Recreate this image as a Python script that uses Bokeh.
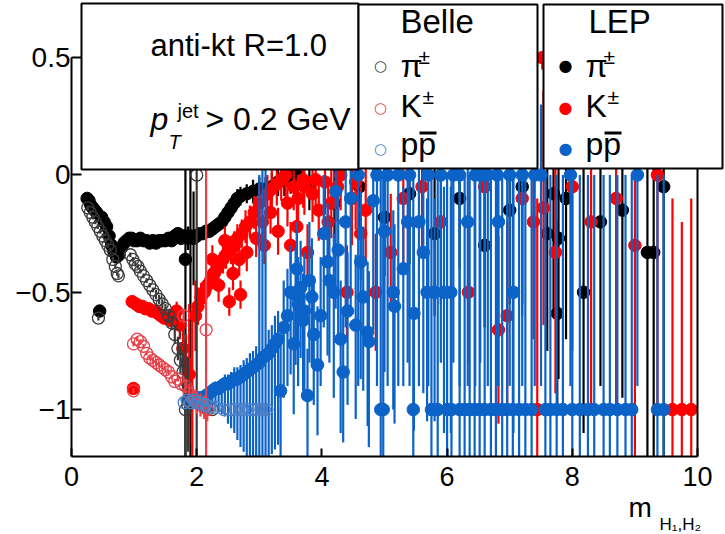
from bokeh.plotting import figure
from bokeh.models import (ColumnDataSource, Range1d, LinearAxis, FixedTicker,
                          CustomJSTickFormatter, BoxAnnotation, Label)
from bokeh.embed import file_html
from bokeh.resources import INLINE

# ---------------- data ----------------
# LEP pi+- (filled black)
lep_pi_x = [0.25,0.28,0.31,0.34,0.37,0.40,0.45,0.48,0.52,0.56,0.60,0.64,0.68,0.72,0.76,0.80,
            0.84,0.88,0.92,0.96,1.00,1.05,1.10,1.15,1.20,1.25,1.30,1.35,1.40,1.45,1.50,1.55,
            1.60,1.65,1.70,1.75,1.80,1.82,1.86,1.90,1.95,2.00,2.05,2.10,2.15,2.20,2.25,2.30,
            2.35,2.40,2.45,2.50,2.55,2.60,2.65,2.70,2.80,2.90,3.00,3.10,3.20,3.30,3.40,3.50,
            3.60,3.80,4.20,4.60,5.00,5.40,5.80,6.20,6.60,7.00,7.20,7.60,7.70,7.76,7.78,7.90,
            8.18,8.45,8.80,9.20,9.30,9.46]
lep_pi_y = [-0.10,-0.11,-0.13,-0.14,-0.15,-0.16,-0.58,-0.18,-0.20,-0.22,-0.26,-0.30,-0.33,-0.35,-0.34,-0.31,
            -0.29,-0.28,-0.27,-0.27,-0.28,-0.28,-0.27,-0.28,-0.28,-0.29,-0.28,-0.29,-0.28,-0.28,-0.28,-0.27,
            -0.28,-0.26,-0.25,-0.27,-0.26,-0.36,-0.27,-0.26,-0.27,-0.26,-0.25,-0.25,-0.24,-0.24,-0.23,-0.22,
            -0.21,-0.20,-0.18,-0.16,-0.14,-0.12,-0.10,-0.09,-0.08,-0.07,-0.06,-0.06,-0.05,-0.03,-0.02,-0.01,
            0.00,-0.05,-0.12,-0.05,-0.18,-0.08,-0.25,-0.10,-0.30,-0.15,-0.05,-0.25,-0.08,-0.59,-0.27,-0.10,
            -0.50,-0.20,-0.15,-0.33,-0.33,-0.05]
lep_pi_e = [0.01,0.01,0.01,0.01,0.01,0.01,0.01,0.01,0.01,0.01,0.01,0.01,0.01,0.01,0.01,0.01,
            0.01,0.01,0.01,0.01,0.01,0.01,0.01,0.01,0.01,0.01,0.01,0.01,0.01,0.01,0.01,0.01,
            0.01,0.01,0.01,0.01,0.01,0.85,0.05,0.95,0.20,0.02,0.02,0.02,0.02,0.02,0.03,0.03,
            0.03,0.03,0.03,0.03,0.04,0.04,0.04,0.04,0.04,0.05,0.05,0.05,0.06,0.06,0.07,0.07,
            0.08,0.10,0.15,0.20,0.25,0.30,0.35,0.30,0.35,0.40,0.50,0.50,0.50,0.40,0.60,0.60,
            0.60,0.70,0.80,0.90,0.90,1.20]

# LEP K+- (filled red)
lep_k_x = [0.97,0.99,1.03,1.08,1.13,1.18,1.23,1.28,1.33,1.38,1.43,1.48,1.53,1.58,1.63,1.68,
           1.73,1.78,1.83,1.88,1.93,1.98,2.02,2.07,2.12,2.17,2.22,2.27,2.32,2.37,2.42,2.47,
           2.52,2.55,2.60,2.65,2.70,2.72,2.78,2.85,2.92,3.00,3.08,3.13,3.20,3.28,3.35,3.42,
           3.50,3.55,3.62,3.70,3.77,3.85,3.95,4.05,4.15,4.25,4.40,4.54,4.70,4.86,5.10,5.30,
           5.60,5.90,6.34,6.60,6.82,6.96,7.20,7.38,7.44,7.52,7.54,7.73,8.00,8.30,8.70,9.00,
           9.36,9.60,9.75,9.90,
           2.25,2.35,2.45,2.58,2.68,2.80,2.95,3.05,3.18,3.30,3.45,3.60,3.72,3.90,4.10,4.30,
           4.48,4.62]
lep_k_y = [-0.54,-0.91,-0.55,-0.56,-0.56,-0.57,-0.57,-0.58,-0.58,-0.59,-0.60,-0.61,-0.61,-0.62,-0.60,-0.58,
           -0.64,-0.74,-0.80,-0.85,-0.95,-0.60,-0.56,-0.52,-0.50,-0.47,-0.45,-0.42,-0.40,-0.38,-0.36,-0.34,
           -0.54,-0.32,-0.30,-0.27,-0.51,-0.25,-0.22,-0.20,-0.16,-0.12,-0.30,-0.08,-0.06,-0.04,-0.02,0.00,
           -0.30,-0.05,-0.10,-0.02,-0.33,-0.08,-0.15,-0.03,-0.12,-0.05,-0.50,-0.03,-0.15,-0.50,-0.33,-0.10,
           -0.05,-0.20,-0.50,-0.05,-0.66,-0.60,-0.10,-0.20,-1.00,0.50,-0.14,-0.33,-0.05,-0.20,-0.10,-0.30,
           0.00,-1.00,-1.00,-1.00,
           -0.36,-0.47,-0.28,-0.42,-0.36,-0.33,-0.27,-0.20,-0.16,-0.24,-0.12,-0.22,-0.05,-0.02,-0.20,0.00,
           -0.10,-0.25]
lep_k_e = [0.01,0.01,0.01,0.01,0.01,0.01,0.01,0.01,0.01,0.01,0.01,0.01,0.01,0.02,0.03,0.04,
           0.06,0.08,0.12,0.30,0.35,0.15,0.08,0.06,0.05,0.05,0.05,0.05,0.05,0.05,0.06,0.06,
           0.06,0.06,0.06,0.06,0.06,0.06,0.07,0.07,0.07,0.08,0.08,0.08,0.08,0.09,0.09,0.10,
           0.10,0.10,0.10,0.12,0.12,0.12,0.13,0.14,0.15,0.15,0.20,0.20,0.22,0.25,0.25,0.30,
           0.30,0.35,0.30,0.40,0.40,0.40,0.50,0.50,0.90,0.05,0.50,0.60,0.70,0.80,0.90,1.00,
           1.00,0.90,0.80,0.90,
           0.06,0.07,0.06,0.07,0.07,0.08,0.08,0.09,0.09,0.10,0.10,0.12,0.12,0.13,0.15,0.15,
           0.20,0.20]

# LEP p pbar (filled blue), asymmetric errors
lep_p_x = [1.85,1.90,1.95,2.00,2.05,2.10,2.15,2.20,2.25,2.30,2.35,2.40,2.45,2.50,2.55,2.60,
           2.65,2.70,2.75,2.80,2.85,2.90,2.95,3.00,3.05,3.10,3.15,3.20,3.25,3.30,
           3.34,3.39,3.45,3.50,3.55,3.58,3.62,3.66,3.70,3.77,
           3.80,3.87,3.93,4.03,4.09,4.19,4.22,4.30,4.34,4.41,
           4.46,4.54,4.62,4.73,4.75,4.82,4.94,4.98,5.00,5.14,
           5.16,5.30,5.37,5.46,5.47,5.62,5.68,5.75,5.80,5.85,
           5.90,5.95,6.00,6.06,6.07,6.10,6.20,6.28,6.33,6.36,
           6.44,6.52,6.53,6.60,6.70,6.78,6.80,6.82,6.88,6.96,
           7.05,7.06,7.15,7.25,7.35,7.50,7.57,7.65,7.75,7.85,
           7.97,8.00,8.12,8.25,8.35,8.50,8.60,8.72,8.85,8.95,
           9.04,9.36,9.46,
           3.60,3.72,3.84,3.98,4.12,4.26,4.38,4.58,4.66,4.88,5.05,5.22,5.40,5.55,5.70,6.20,
           6.45,6.65,7.00,7.20,7.40]
lep_p_y = [-0.96,-0.96,-0.96,-0.95,-0.95,-0.95,-0.94,-0.93,-0.92,-0.91,-0.91,-0.90,-0.89,-0.89,-0.88,-0.87,
           -0.87,-0.86,-0.85,-0.84,-0.83,-0.82,-0.81,-0.80,-0.78,-0.77,-0.76,-0.74,-0.72,-0.70,
           -0.92,-0.65,-0.60,-0.50,-0.72,-0.51,-0.55,-0.48,-0.62,-0.94,
           -0.45,-0.68,-0.81,-0.25,-0.37,-0.50,-0.07,-0.70,-0.84,-0.58,
           -0.10,-0.64,-0.37,-0.67,-0.71,-0.11,-1.00,-1.00,-0.24,-0.50,
           -0.56,-0.40,-0.20,-1.00,-0.59,-0.33,-0.50,-1.00,-0.50,-1.00,
           0.00,-0.50,-1.00,-0.50,-1.00,0.00,-1.00,-1.00,-0.20,-1.00,
           -1.00,-1.00,0.00,-1.00,-1.00,-1.00,0.00,-0.20,-1.00,-1.00,
           -1.00,-0.50,-1.00,-1.00,-1.00,0.00,-1.00,-1.00,-1.00,-1.00,
           0.00,-1.00,-1.00,-1.00,-1.00,-1.00,-1.00,-1.00,-1.00,-1.00,
           0.00,-1.00,-1.00,
           -0.40,-0.58,-0.52,-0.60,-0.45,-0.32,-0.20,0.00,-0.52,0.00,0.00,0.00,0.00,-0.20,0.00,0.00,
           0.00,0.00,0.00,0.00,0.00]
lep_p_elo = [0.02,0.02,0.02,0.02,0.03,0.03,0.04,0.05,0.06,0.08,0.10,0.12,0.14,0.17,0.20,0.23,
             0.26,0.30,0.33,0.36,0.40,0.45,0.50,0.55,0.55,0.55,0.45,0.45,0.45,0.45,
             0.30,0.30,0.30,0.35,0.30,0.30,0.35,0.30,0.30,0.30,
             0.35,0.30,0.30,0.40,0.40,0.45,0.50,0.40,0.30,0.40,
             0.50,0.40,0.50,0.40,0.45,0.55,0.30,0.30,0.60,0.50,
             0.50,0.50,0.60,0.30,0.50,0.60,0.55,0.30,0.55,0.30,
             0.80,0.60,0.30,0.60,0.30,0.80,0.30,0.30,0.70,0.30,
             0.30,0.30,0.80,0.30,0.30,0.30,0.90,0.70,0.30,0.30,
             0.30,0.60,0.30,0.30,0.30,0.90,0.30,0.30,0.30,0.30,
             0.90,0.30,0.30,0.30,0.30,0.30,0.30,0.30,0.30,0.30,
             0.90,0.30,0.30,
             0.30,0.35,0.30,0.30,0.35,0.40,0.45,0.90,0.40,0.90,0.90,0.90,0.90,0.70,0.90,0.90,
             0.90,0.90,0.90,0.90,0.90]
lep_p_ehi = [0.02,0.02,0.02,0.02,0.02,0.02,0.02,0.02,0.03,0.03,0.03,0.03,0.04,0.04,0.04,0.05,
             0.05,0.05,0.06,0.06,0.07,0.07,0.08,0.80,0.80,0.80,0.10,0.10,0.12,0.12,
             0.20,0.20,0.20,0.20,0.20,0.20,0.20,0.20,0.20,0.20,
             0.25,0.25,0.25,0.25,0.25,0.25,0.25,0.25,0.25,0.25,
             0.30,0.30,0.30,0.30,0.30,0.30,1.00,1.00,0.30,0.35,
             0.35,0.35,0.35,1.00,0.40,0.40,0.40,1.00,0.40,1.00,
             0.30,0.45,1.00,0.45,1.00,0.30,1.00,1.00,0.50,1.00,
             1.00,1.00,0.30,1.00,1.00,1.00,0.30,0.50,1.00,1.00,
             1.00,0.50,1.00,1.00,1.00,0.30,1.00,1.00,1.00,1.00,
             0.30,1.00,1.00,1.00,1.00,1.00,1.00,1.00,1.00,1.00,
             0.30,1.00,1.00,
             0.20,0.25,0.25,0.25,0.25,0.25,0.30,0.30,0.30,0.30,0.30,0.30,0.30,0.30,0.30,0.30,
             0.30,0.30,0.30,0.30,0.30]

# Belle pi+- (open black)
belle_pi_x = [0.26,0.30,0.34,0.38,0.42,0.43,0.46,0.50,0.54,0.58,0.62,0.66,0.70,0.73,0.75,
              0.94,0.98,1.02,1.06,1.10,1.15,1.20,1.25,1.30,1.35,1.40,1.45,1.50,1.55,1.60,
              1.65,1.70,1.74,1.78,1.82,1.86,2.00,2.05,2.15,2.25]
belle_pi_y = [-0.14,-0.16,-0.18,-0.20,-0.22,-0.61,-0.24,-0.26,-0.28,-0.30,-0.32,-0.36,-0.39,-0.42,-0.43,
              -0.34,-0.36,-0.38,-0.39,-0.41,-0.43,-0.45,-0.47,-0.49,-0.51,-0.53,-0.55,-0.57,-0.60,-0.63,
              -0.68,-0.74,-0.79,-0.84,-1.00,-0.98,0.00,-0.98,-0.99,-1.00]
belle_pi_e = [0.01,0.01,0.01,0.01,0.01,0.01,0.01,0.01,0.01,0.01,0.01,0.01,0.01,0.01,0.01,
              0.01,0.01,0.01,0.01,0.01,0.01,0.01,0.01,0.01,0.02,0.02,0.02,0.02,0.03,0.03,
              0.04,0.05,0.06,0.08,0.30,0.20,1.30,0.02,0.02,0.02]

# Belle K+- (open red)
belle_k_x = [0.99,0.99,1.05,1.10,1.15,1.20,1.25,1.30,1.35,1.40,1.45,1.50,1.55,1.60,1.65,1.70,
             1.75,1.79,1.82,1.88,1.94,2.00,2.06,2.12,2.15,2.17]
belle_k_y = [-0.72,-0.92,-0.70,-0.71,-0.73,-0.76,-0.78,-0.79,-0.80,-0.81,-0.82,-0.83,-0.84,-0.86,-0.88,-0.87,
             -0.89,-0.60,-0.90,-0.93,-0.95,-0.97,-0.98,-0.99,-0.66,-1.00]
belle_k_e = [0.01,0.01,0.01,0.01,0.01,0.01,0.01,0.01,0.01,0.01,0.01,0.01,0.01,0.01,0.01,0.01,
             0.01,0.03,0.03,0.04,0.05,0.05,0.05,0.05,1.00,0.05]

# Belle p pbar (open blue)
belle_p_x = [1.80,1.85,1.90,1.95,2.00,2.05,2.10,2.15,2.20,2.30,2.43,2.54,2.62,2.70,2.75,2.82,
             2.90,2.97,3.03,3.08,3.12]
belle_p_y = [-0.97,-0.96,-0.97,-0.96,-0.97,-0.97,-0.98,-0.98,-0.99,-0.99,-1.00,-1.00,-1.00,-1.00,-1.00,-1.00,
             -1.00,-1.00,-1.00,-1.00,-1.00]
belle_p_e = [0.01,0.01,0.01,0.01,0.01,0.01,0.01,0.01,0.01,0.02,0.02,0.02,0.02,0.02,0.02,0.02,
             0.02,0.02,0.02,0.02,0.02]

x_ticks = [0, 2, 4, 6, 8, 10]
y_ticks = [-1, -0.5, 0, 0.5]

# ---------------- layout helpers (pixel -> data for decorations) ----------------
W, H = 725, 534
FL, FB = 71, 456            # pixel column of x=0 / pixel row of y=-1.2
PXX = 62.6                  # px per x unit
PXY = 234.6                 # px per y unit
Y_MIN, Y_MAX = -1.2, 0.505  # visible axis extent
Y_TOP = Y_MIN + FB / PXY    # value at pixel row 0
Y_BOT = Y_MIN - (H - FB) / PXY
X_LEFT = -FL / PXX
X_RIGHT = (W - FL) / PXX


def dx(px):
    return (px - FL) / PXX


def dy(py):
    return Y_TOP - py / PXY


FONT = "Liberation Sans"

p = figure(width=W, height=H, x_range=Range1d(X_LEFT, X_RIGHT), y_range=Range1d(Y_BOT, Y_TOP),
           output_backend="svg", toolbar_location=None, x_axis_type=None, y_axis_type=None,
           min_border_left=0, min_border_right=0, min_border_top=0, min_border_bottom=0)
p.outline_line_color = None
p.background_fill_color = "white"

xaxis = LinearAxis(ticker=FixedTicker(ticks=x_ticks), bounds=(0, 10), fixed_location=Y_MIN)
yaxis = LinearAxis(ticker=FixedTicker(ticks=y_ticks), bounds=(Y_MIN, 0.5), fixed_location=0,
                   formatter=CustomJSTickFormatter(code="return tick < 0 ? '\u2212' + (-tick) : String(tick);"))
raxis = LinearAxis(ticker=FixedTicker(ticks=[]), bounds=(Y_MIN, 0.5), fixed_location=10,
                   major_label_text_font_size="0px")
for ax in (xaxis, yaxis, raxis):
    ax.axis_line_width = 2
    ax.axis_line_color = "black"
    ax.major_tick_line_width = 2
    ax.major_tick_out = 0
    ax.minor_tick_line_color = None
    ax.major_label_text_font = FONT
    ax.major_label_text_color = "black"
xaxis.major_tick_in = 8
yaxis.major_tick_in = 10
xaxis.major_label_text_font_size = "27px"
yaxis.major_label_text_font_size = "28px"
xaxis.major_label_standoff = 10
yaxis.major_label_standoff = 1
p.add_layout(xaxis, "below")
p.add_layout(yaxis, "left")
p.add_layout(raxis, "right")


def add_series(x, y, elo, ehi, color, filled, size):
    n = len(x)
    assert len(y) == n and len(elo) == n and len(ehi) == n, (color, n, len(y), len(elo), len(ehi))
    src = ColumnDataSource(dict(x=x, y=y,
                                lo=[max(yy - e, Y_MIN) for yy, e in zip(y, elo)],
                                hi=[min(yy + e, Y_MAX) for yy, e in zip(y, ehi)]))
    p.segment(x0="x", y0="lo", x1="x", y1="hi", source=src, line_color=color, line_width=2.2)
    if filled:
        p.scatter("x", "y", source=src, marker="circle", size=size, fill_color=color,
                  line_color=color)
    else:
        p.scatter("x", "y", source=src, marker="circle", size=size, fill_color=None,
                  line_color=color, line_width=1.3)


LEP_BLACK, LEP_RED, LEP_BLUE = "#000000", "#ff0000", "#0b63c8"
BEL_BLACK, BEL_RED, BEL_BLUE = "#3a3a3a", "#e8404a", "#4a80c8"

add_series(lep_pi_x, lep_pi_y, lep_pi_e, lep_pi_e, LEP_BLACK, True, 12.5)
add_series(lep_k_x, lep_k_y, lep_k_e, lep_k_e, LEP_RED, True, 12.5)
add_series(lep_p_x, lep_p_y, lep_p_elo, lep_p_ehi, LEP_BLUE, True, 12.5)
add_series(belle_pi_x, belle_pi_y, belle_pi_e, belle_pi_e, BEL_BLACK, False, 12)
add_series(belle_k_x, belle_k_y, belle_k_e, belle_k_e, BEL_RED, False, 12)
add_series(belle_p_x, belle_p_y, belle_p_e, belle_p_e, BEL_BLUE, False, 12)

# ---------------- boxes ----------------
for (l, r, t, b) in [(81, 358, 3, 169), (358, 537, 4, 168), (543, 722, 4, 168)]:
    p.add_layout(BoxAnnotation(left=dx(l), right=dx(r), top=dy(t), bottom=dy(b),
                               fill_color="white", fill_alpha=1.0, line_color="black",
                               line_width=2, line_alpha=1.0))


def lab(text, px, py, size, font=FONT, style="normal", color="black", align="left",
        baseline="alphabetic", shift=True):
    yy = py - round(0.32 * size) if shift else py
    p.add_layout(Label(x=dx(px), y=dy(yy), text=text, text_font=font, text_font_size=f"{size}px",
                       text_font_style=style, text_color=color, text_align=align,
                       text_baseline=baseline))


lab("anti-kt R=1.0", 150, 55, 31)
lab("p", 150, 128, 32, style="italic")
lab("T", 168, 147, 20, style="italic")
lab("jet", 177, 116, 20)
lab("> 0.2 GeV", 205, 128, 32)

lab("Belle", 400, 32, 33)
lab("LEP", 588, 32, 33)

rows = [("\u03c0", 75, 63, 18, 65), ("K", 115, 103, 22, 107), ("pp", 153, None, None, 148)]
for (bx, sym, size, cols) in [(380, "\u25cb", 15, (BEL_BLACK, BEL_RED, BEL_BLUE)),
                              (565, "\u25cf", 16, (LEP_BLACK, LEP_RED, LEP_BLUE))]:
    tx = bx + 20
    for (txt, base, sup_base, sup_dx, cy), col in zip(rows, cols):
        lab(sym, bx, cy, size, font="DejaVu Sans", color=col, align="center",
            baseline="middle", shift=False)
        lab(txt, tx, base, 32)
        if sup_base is not None:
            lab("\u00b1", tx + sup_dx, sup_base, 21)
    # overline of the anti-proton
    p.add_layout(BoxAnnotation(left=dx(tx + 19), right=dx(tx + 36), top=dy(131), bottom=dy(134),
                               fill_color="black", fill_alpha=1.0, line_color=None))

# x axis title: m_{H1,H2}
lab("m", 628, 516, 28)
lab("H\u2081,H\u2082", 659, 529, 17)

open("out.html", "w").write(file_html(p, INLINE))
